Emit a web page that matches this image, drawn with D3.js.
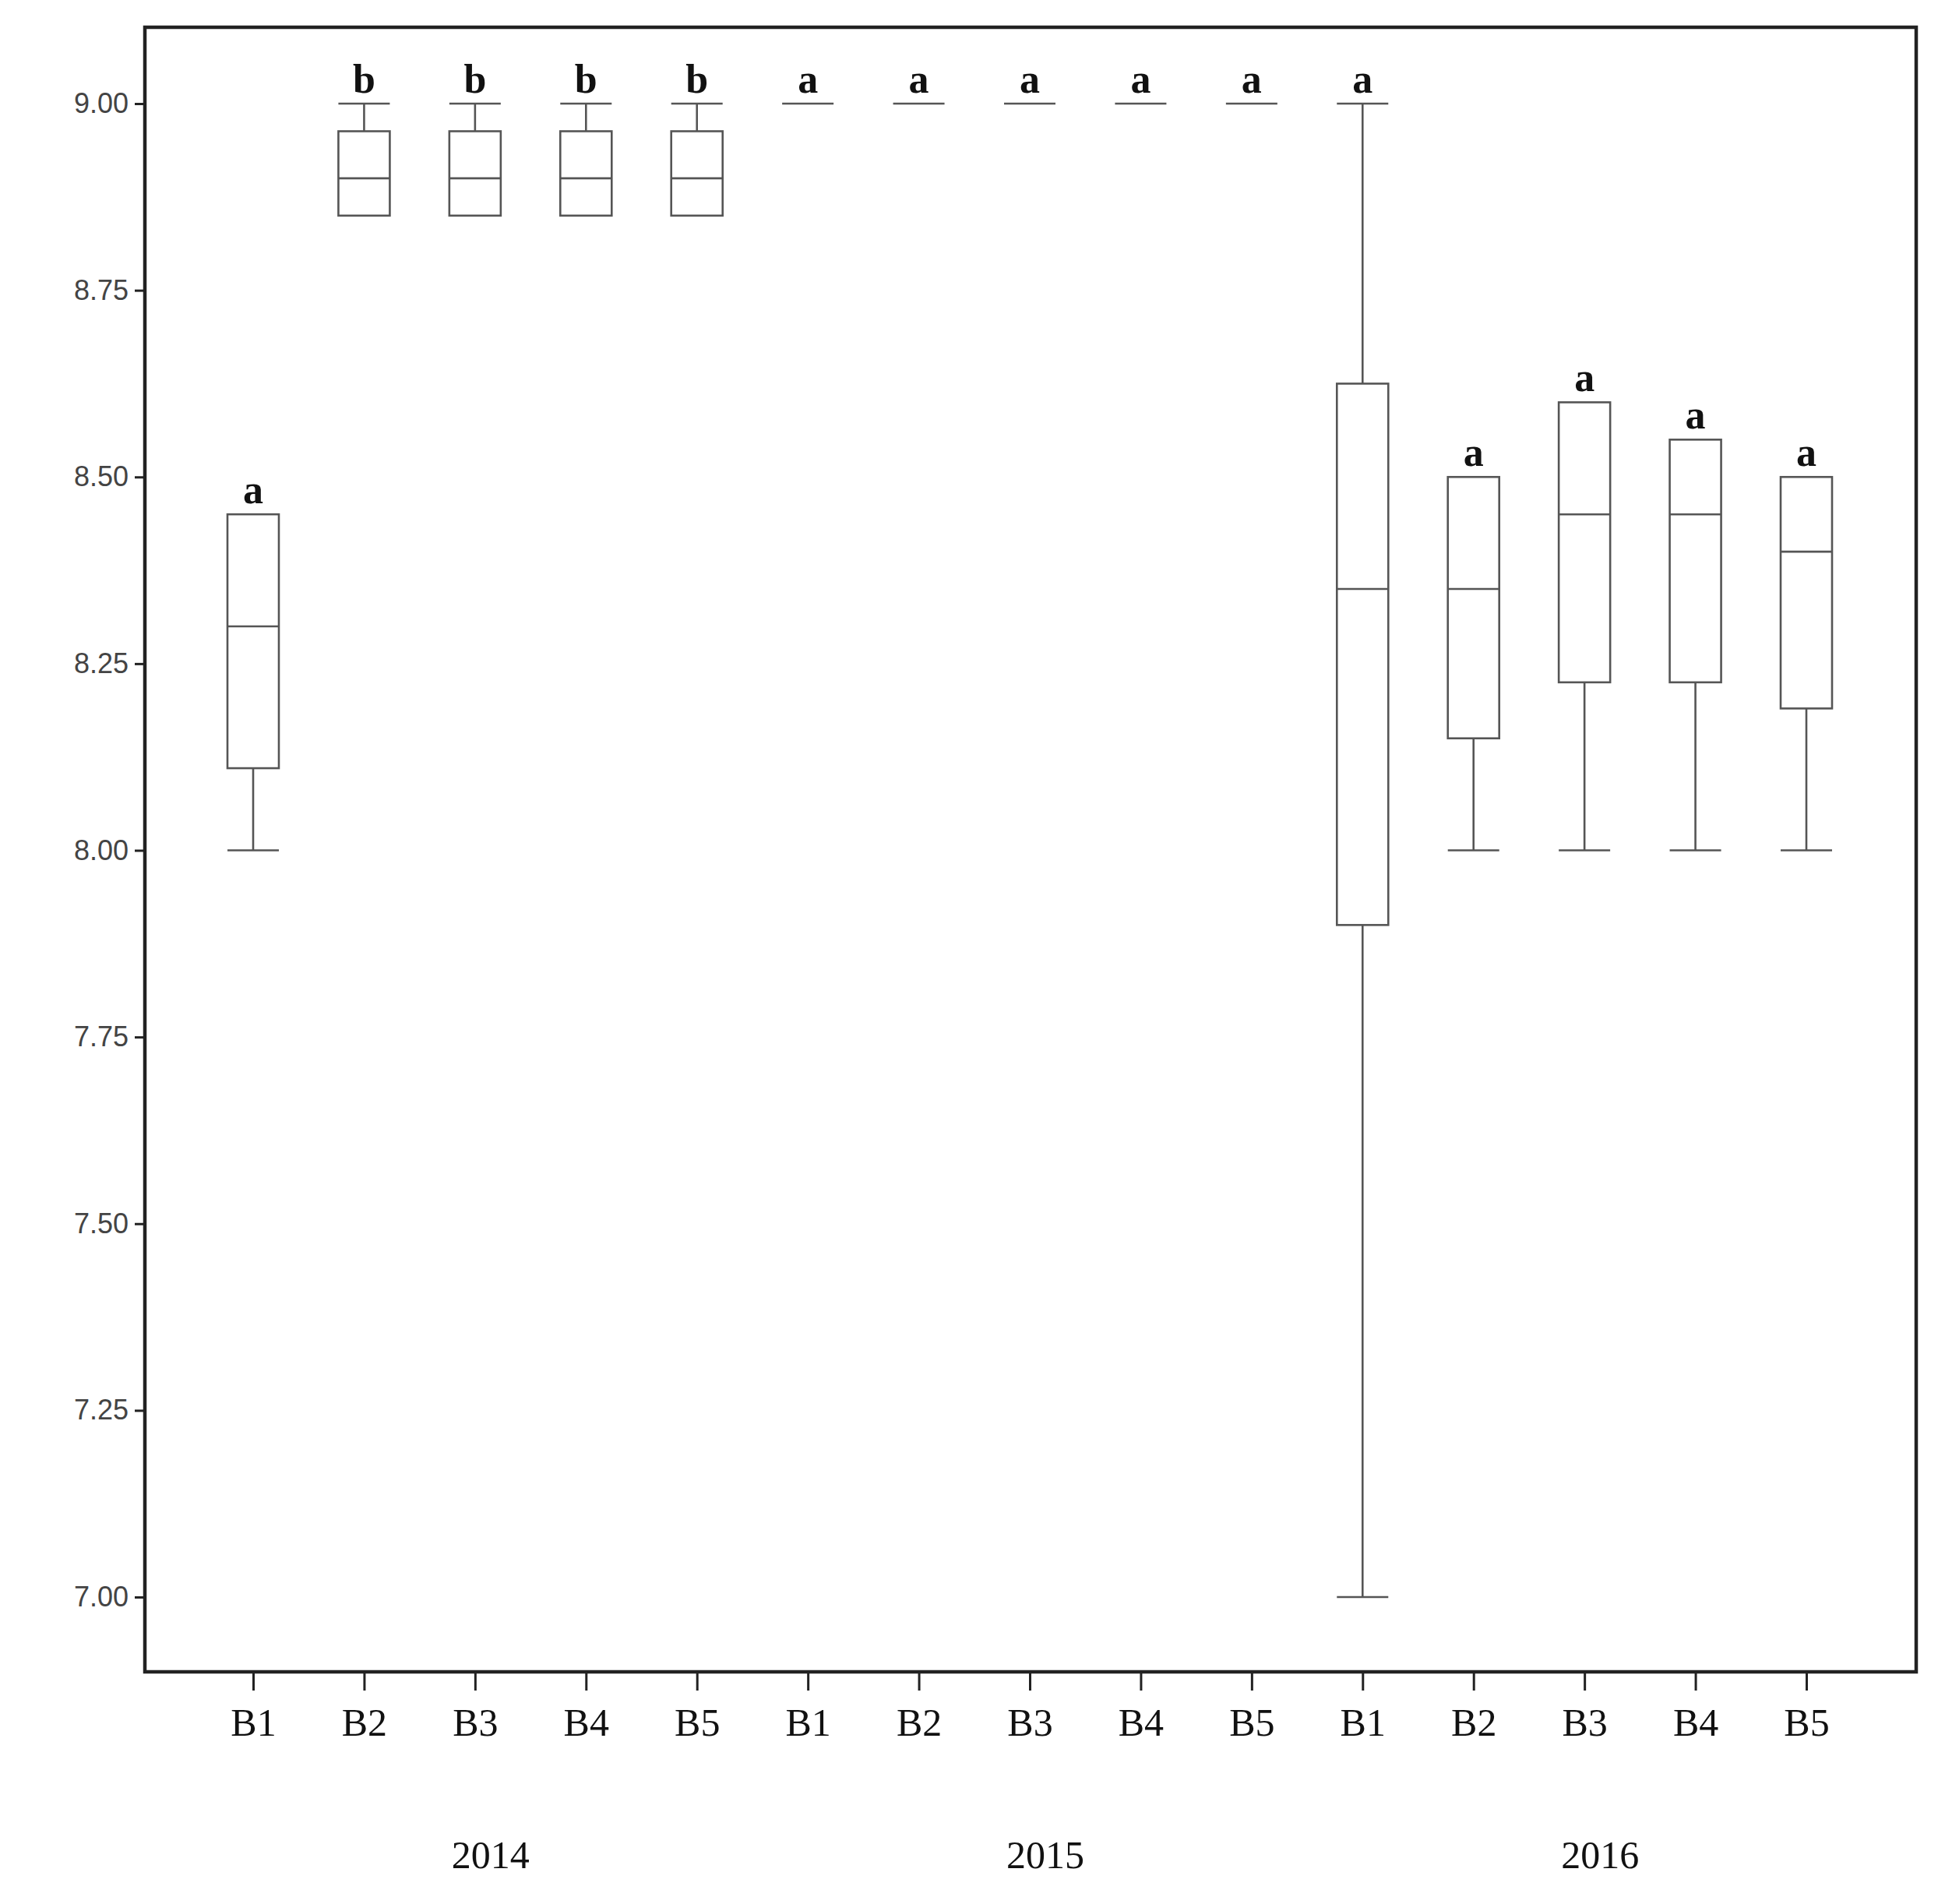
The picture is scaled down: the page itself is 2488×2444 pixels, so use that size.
<!DOCTYPE html>
<html><head><meta charset="utf-8">
<script src="https://cdn.jsdelivr.net/npm/d3@7"></script>
<style>body{margin:0;background:#fff}</style>
</head><body><svg id="c" width="2488" height="2444"></svg>
<script>
const groups = ["2014","2015","2016"];
const treatments = ["B1","B2","B3","B4","B5"];
const mins    = [8.00,8.85,8.85,8.85,8.85, 9,9,9,9,9, 7.00,8.00,8.00,8.00,8.00];
const q1s     = [8.11,8.85,8.85,8.85,8.85, 9,9,9,9,9, 7.90,8.15,8.225,8.225,8.19];
const medians = [8.30,8.90,8.90,8.90,8.90, 9,9,9,9,9, 8.35,8.35,8.45,8.45,8.40];
const q3s     = [8.45,8.963,8.963,8.963,8.963, 9,9,9,9,9, 8.625,8.50,8.60,8.55,8.50];
const maxs    = [8.45,9.00,9.00,9.00,9.00, 9,9,9,9,9, 9.00,8.50,8.60,8.55,8.50];
const letters = ["a","b","b","b","b","a","a","a","a","a","a","a","a","a","a"];
const yTicks = [7.00,7.25,7.50,7.75,8.00,8.25,8.50,8.75,9.00];

const svg = d3.select("#c");
const L=186,R=2460,T=35,B=2146;
const keys = [];
groups.forEach(g=>treatments.forEach(t=>keys.push(g+"-"+t)));
const x = d3.scalePoint().domain(keys).range([325,2319]);
const y = d3.scaleLinear().domain([7,9]).range([2050,133]);
const bw = 66;
const col="#555";

svg.append("rect").attr("x",L).attr("y",T).attr("width",R-L).attr("height",B-T)
  .attr("fill","none").attr("stroke","#222").attr("stroke-width",4.5);

const ya = svg.append("g").attr("transform",`translate(${L},0)`)
  .call(d3.axisLeft(y).tickValues(yTicks).tickFormat(d3.format(".2f")).tickSize(13).tickPadding(8));
ya.select(".domain").remove();
ya.selectAll("line").attr("stroke","#222").attr("stroke-width",3);
ya.selectAll("text").attr("font-family","Liberation Sans, Arial").attr("font-size",36).attr("fill","#444");

const xa = svg.append("g").attr("transform",`translate(0,${B})`)
  .call(d3.axisBottom(x).tickSize(24).tickPadding(22).tickFormat(d=>d.split("-")[1]));
xa.select(".domain").remove();
xa.selectAll("line").attr("stroke","#222").attr("stroke-width",3);
xa.selectAll("text").attr("font-family","Liberation Serif, Times New Roman").attr("font-size",50).attr("fill","#111");

groups.forEach(g=>{
  const cx = (x(g+"-B1")+x(g+"-B5"))/2 + 20;
  svg.append("text").attr("x",cx).attr("y",2398).attr("text-anchor","middle")
    .attr("font-family","Liberation Serif, Times New Roman").attr("font-size",50).attr("fill","#111").text(g);
});

keys.forEach((k,i)=>{
  const cx=x(k), g=svg.append("g").attr("stroke",col).attr("stroke-width",2.6).attr("fill","none");
  if(maxs[i]>q3s[i]){
    g.append("line").attr("x1",cx).attr("x2",cx).attr("y1",y(maxs[i])).attr("y2",y(q3s[i]));
    g.append("line").attr("x1",cx-bw/2).attr("x2",cx+bw/2).attr("y1",y(maxs[i])).attr("y2",y(maxs[i]));
  }
  if(mins[i]<q1s[i]){
    g.append("line").attr("x1",cx).attr("x2",cx).attr("y1",y(q1s[i])).attr("y2",y(mins[i]));
    g.append("line").attr("x1",cx-bw/2).attr("x2",cx+bw/2).attr("y1",y(mins[i])).attr("y2",y(mins[i]));
  }
  if(q3s[i]>q1s[i]){
    g.append("rect").attr("x",cx-bw/2).attr("width",bw).attr("y",y(q3s[i])).attr("height",y(q1s[i])-y(q3s[i]));
  }
  g.append("line").attr("x1",cx-bw/2).attr("x2",cx+bw/2).attr("y1",y(medians[i])).attr("y2",y(medians[i]));
  svg.append("text").attr("x",cx).attr("y",y(maxs[i])-14).attr("text-anchor","middle")
    .attr("font-family","Liberation Serif, Times New Roman").attr("font-weight","bold").attr("font-size",52)
    .attr("fill","#111").text(letters[i]);
});
</script></body></html>
